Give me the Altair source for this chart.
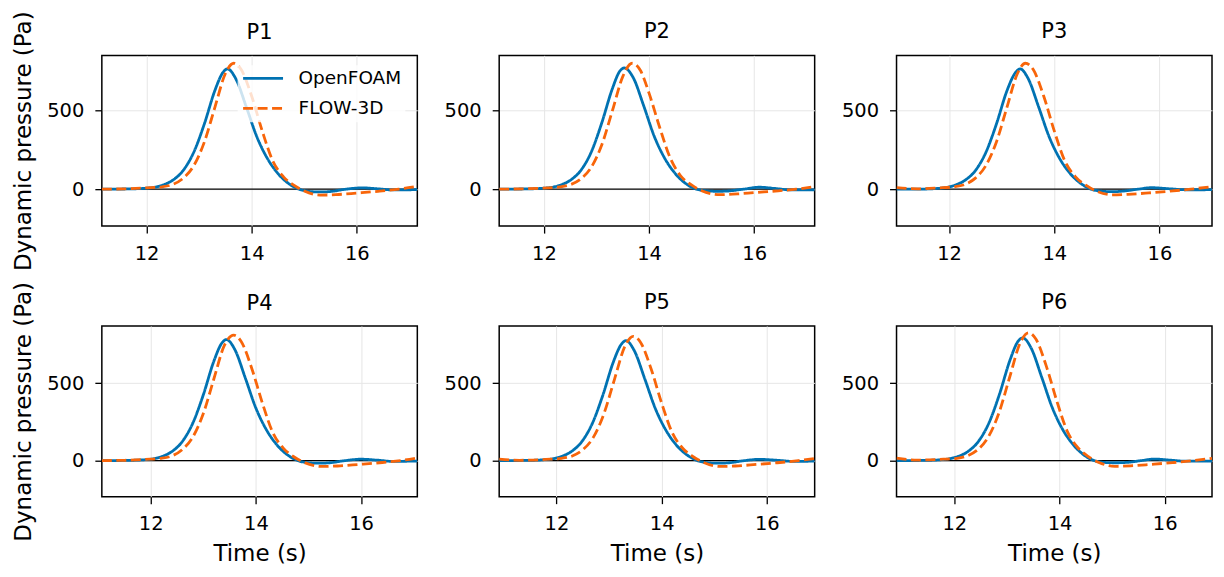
import pandas as pd
import altair as alt

FONT = "DejaVu Sans"
BLUE = "#0072B2"
ORANGE = "#F8650A"

series_names = ["OpenFOAM", "FLOW-3D"]
x_ticks = [12, 14, 16]
y_ticks = [0, 500]

# time window shown in each panel (s)
x_lims = {
    "P1": [11.15, 17.15],
    "P2": [11.15, 17.15],
    "P3": [11.0, 17.0],
    "P4": [11.07, 17.07],
    "P5": [10.91, 16.91],
    "P6": [10.9, 16.9],
}
y_lim_top = [-235, 850]
y_lim_bottom = [-233, 870]

# P1
p1_of_t = [11.15, 11.6, 12.0, 12.3, 12.5, 12.7, 12.9, 13.1, 13.3, 13.45, 13.54, 13.7, 13.9, 14.1,
           14.3, 14.5, 14.7, 14.9, 15.1, 15.3, 15.5, 15.8, 16.1, 16.4, 16.7, 17.0, 17.15]
p1_of_p = [0, 1, 6, 25, 57, 120, 236, 415, 627, 740, 764, 700, 520, 331,
           194, 99, 36, 0, -15, -18, -15, 0, 8, 2, -5, -4, -3]
p1_f3_t = [11.15, 11.6, 12.0, 12.3, 12.5, 12.7, 12.9, 13.1, 13.3, 13.5, 13.66, 13.8, 14.0, 14.2,
           14.4, 14.6, 14.8, 15.0, 15.3, 15.6, 16.0, 16.4, 16.8, 17.15]
p1_f3_p = [0, 2, 8, 15, 30, 70, 150, 300, 520, 735, 800, 760, 590, 370,
           180, 80, 25, -12, -38, -35, -25, -14, 0, 18]

# P2
p2_of_t = [11.15, 11.6, 12.0, 12.3, 12.5, 12.7, 12.9, 13.1, 13.3, 13.44, 13.53, 13.7, 13.9, 14.1,
           14.3, 14.5, 14.7, 14.9, 15.1, 15.3, 15.5, 15.8, 16.1, 16.4, 16.7, 17.0, 17.15]
p2_of_p = [0, 1, 6, 24, 56, 118, 235, 420, 636, 748, 770, 708, 528, 335,
           195, 98, 35, 0, -11, -14, -12, 0, 12, 4, -5, -5, -4]
p2_f3_t = [11.15, 11.6, 12.0, 12.3, 12.5, 12.7, 12.9, 13.1, 13.3, 13.5, 13.68, 13.84, 14.0, 14.2,
           14.4, 14.6, 14.8, 15.0, 15.35, 15.7, 16.0, 16.4, 16.8, 17.15]
p2_f3_p = [0, 2, 7, 14, 28, 64, 138, 280, 495, 715, 800, 752, 610, 395,
           200, 85, 28, -10, -35, -30, -22, -12, 0, 15]

# P3
p3_of_t = [11.0, 11.4, 11.8, 12.1, 12.3, 12.5, 12.7, 12.9, 13.1, 13.26, 13.35, 13.5, 13.7, 13.9,
           14.1, 14.3, 14.5, 14.7, 14.9, 15.1, 15.3, 15.6, 15.85, 16.2, 16.5, 16.8, 17.0]
p3_of_p = [0, 0, 5, 24, 56, 118, 234, 414, 625, 740, 764, 705, 525, 335,
           196, 100, 37, 0, -13, -16, -13, 0, 9, 2, -4, -4, -3]
p3_f3_t = [11.0, 11.4, 11.8, 12.1, 12.3, 12.5, 12.7, 12.9, 13.1, 13.3, 13.45, 13.6, 13.8, 14.0,
           14.2, 14.4, 14.6, 14.8, 15.1, 15.4, 15.8, 16.2, 16.6, 17.0]
p3_f3_p = [10, 2, 8, 15, 30, 70, 150, 300, 520, 735, 800, 760, 590, 370,
           180, 80, 25, -12, -36, -33, -24, -13, 0, 16]

# P4
p4_of_t = [11.07, 11.5, 11.9, 12.2, 12.4, 12.6, 12.8, 13.0, 13.2, 13.35, 13.44, 13.6, 13.8, 14.0,
           14.2, 14.4, 14.6, 14.8, 15.0, 15.2, 15.4, 15.7, 16.0, 16.3, 16.6, 16.9, 17.07]
p4_of_p = [0, 1, 6, 25, 58, 123, 242, 425, 642, 758, 782, 717, 532, 339,
           199, 101, 37, 0, -14, -17, -14, 0, 9, 3, -5, -4, -3]
p4_f3_t = [11.07, 11.5, 11.9, 12.2, 12.4, 12.6, 12.8, 13.0, 13.2, 13.4, 13.58, 13.72, 13.92, 14.12,
           14.32, 14.52, 14.72, 14.92, 15.25, 15.55, 15.95, 16.35, 16.75, 17.07]
p4_f3_p = [0, 2, 8, 15, 30, 71, 152, 304, 527, 744, 810, 770, 597, 375,
           182, 81, 25, -12, -38, -35, -25, -14, 0, 17]

# P5
p5_of_t = [10.91, 11.4, 11.78, 12.08, 12.28, 12.48, 12.68, 12.88, 13.08, 13.23, 13.32, 13.48, 13.68, 13.88,
           14.08, 14.28, 14.48, 14.68, 14.88, 15.08, 15.28, 15.58, 15.85, 16.2, 16.5, 16.8, 16.91]
p5_of_p = [0, 1, 6, 25, 58, 122, 239, 421, 636, 750, 775, 710, 527, 336,
           197, 100, 37, 0, -14, -17, -14, 0, 8, 2, -5, -4, -3]
p5_f3_t = [10.91, 11.3, 11.8, 12.1, 12.3, 12.5, 12.7, 12.9, 13.1, 13.3, 13.46, 13.6, 13.8, 14.0,
           14.2, 14.4, 14.6, 14.8, 15.1, 15.4, 15.8, 16.2, 16.6, 16.91]
p5_f3_p = [10, 2, 8, 15, 30, 70, 150, 301, 522, 738, 803, 763, 592, 371,
           181, 80, 25, -12, -38, -35, -25, -14, 0, 14]

# P6
p6_of_t = [10.9, 11.4, 11.76, 12.06, 12.26, 12.46, 12.66, 12.86, 13.06, 13.21, 13.3, 13.46, 13.66, 13.86,
           14.06, 14.26, 14.46, 14.66, 14.86, 15.06, 15.26, 15.56, 15.8, 16.1, 16.4, 16.7, 16.9]
p6_of_p = [0, 1, 6, 26, 59, 125, 245, 431, 651, 770, 793, 727, 540, 344,
           201, 103, 37, 0, -12, -14, -12, 0, 10, 3, -4, -4, -3]
p6_f3_t = [10.9, 11.3, 11.7, 12.05, 12.25, 12.45, 12.65, 12.85, 13.05, 13.25, 13.41, 13.55, 13.75, 13.95,
           14.15, 14.35, 14.55, 14.75, 15.05, 15.35, 15.75, 16.15, 16.55, 16.9]
p6_f3_p = [16, 3, 8, 15, 31, 72, 155, 310, 537, 759, 826, 785, 609, 383,
           187, 83, 26, -12, -37, -34, -24, -13, 0, 15]


def panel(name, t_of, p_of, t_f3, p_f3, y_dom, y_title=None, x_title=None, legend=None,
          title_offset=-3.6):
    of = pd.DataFrame({"t": t_of, "p": p_of, "series": "OpenFOAM"})
    f3 = pd.DataFrame({"t": t_f3, "p": p_f3, "series": "FLOW-3D"})

    x = alt.X("t:Q",
              scale=alt.Scale(domain=x_lims[name], nice=False, zero=False),
              axis=alt.Axis(values=x_ticks, format="d", title=x_title, titlePadding=9))
    y = alt.Y("p:Q",
              scale=alt.Scale(domain=y_dom, nice=False, zero=False),
              axis=alt.Axis(values=y_ticks, format="d", title=y_title, titlePadding=11))
    color = alt.Color("series:N",
                      scale=alt.Scale(domain=series_names, range=[BLUE, ORANGE]),
                      legend=legend)
    dash = alt.StrokeDash("series:N",
                          scale=alt.Scale(domain=series_names, range=[[1, 0], [10, 4.5]]),
                          legend=legend)

    zero = alt.Chart(pd.DataFrame({"p": [0]})).mark_rule(
        color="black", strokeWidth=1.3).encode(y=y)
    line_of = alt.Chart(of).mark_line(strokeWidth=2.8, interpolate="monotone", clip=True).encode(
        x=x, y=y, color=color, strokeDash=dash)
    line_f3 = alt.Chart(f3).mark_line(strokeWidth=2.8, interpolate="monotone", clip=True).encode(
        x=x, y=y, color=color, strokeDash=dash)

    return alt.layer(zero, line_of, line_f3).properties(
        width=316,
        height=171,
        title=alt.TitleParams(name, fontSize=21, fontWeight="normal", font=FONT, color="black",
                              frame="group", baseline="alphabetic", offset=title_offset,
                              anchor="middle"),
    )


legend = alt.Legend(
    title=None, orient="none", legendX=136, legendY=10,
    symbolType="stroke", symbolSize=1600, symbolStrokeWidth=2.8,
    clipHeight=18, rowPadding=11, labelOffset=14,
    labelFont=FONT, labelFontSize=18.5, labelColor="black",
    padding=4, fillColor="rgba(255,255,255,0.8)",
)

ytitle = "Dynamic pressure (Pa)"
xtitle = "Time (s)"

# the long y title spills above the left panels, the title sits on top of that
left_offset = -3.6 - 45.7

panels = [
    panel("P1", p1_of_t, p1_of_p, p1_f3_t, p1_f3_p, y_lim_top, y_title=ytitle, legend=legend,
          title_offset=left_offset),
    panel("P2", p2_of_t, p2_of_p, p2_f3_t, p2_f3_p, y_lim_top),
    panel("P3", p3_of_t, p3_of_p, p3_f3_t, p3_f3_p, y_lim_top),
    panel("P4", p4_of_t, p4_of_p, p4_f3_t, p4_f3_p, y_lim_bottom, y_title=ytitle, x_title=xtitle,
          title_offset=left_offset),
    panel("P5", p5_of_t, p5_of_p, p5_f3_t, p5_f3_p, y_lim_bottom, x_title=xtitle),
    panel("P6", p6_of_t, p6_of_p, p6_f3_t, p6_f3_p, y_lim_bottom, x_title=xtitle),
]

chart = alt.concat(
    *panels, columns=3, spacing={"row": 100, "column": 82}, bounds="flush"
).properties(
    padding={"left": 4, "top": 1, "right": 2, "bottom": 2},
).configure_view(
    stroke="black", strokeWidth=1.5
).configure_axis(
    labelFont=FONT, labelFontSize=19.5, labelColor="black", labelPadding=11,
    titleFont=FONT, titleFontSize=23, titleFontWeight="normal", titleColor="black",
    tickColor="black", tickWidth=1.3, tickSize=7,
    domain=False, gridColor="#e6e6e6", gridWidth=1,
)

chart.save("out.html", embed_options={"renderer": "svg", "actions": False})
